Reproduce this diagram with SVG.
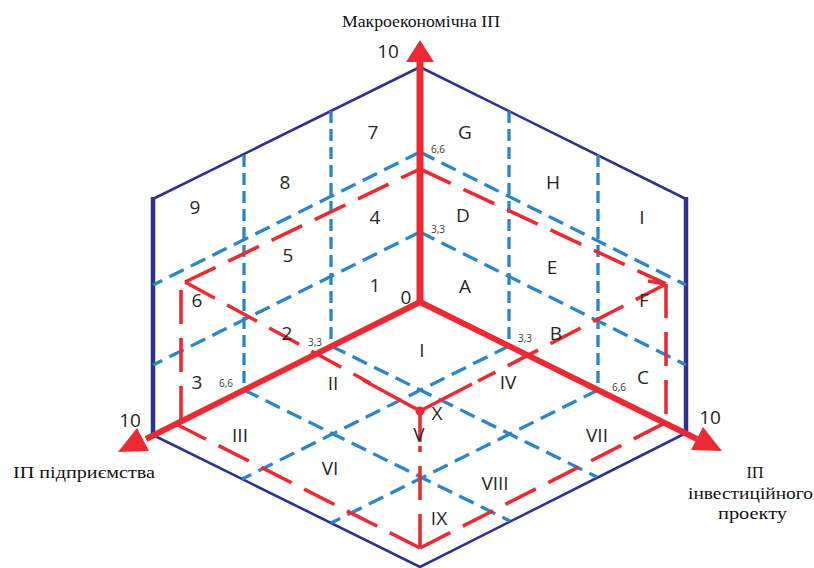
<svg xmlns="http://www.w3.org/2000/svg" width="814" height="568" viewBox="0 0 814 568">
<style>
.hex{fill:none;stroke:#2e3190;stroke-width:2.6;stroke-linejoin:round}
.hexv{fill:none;stroke:#2e3190;stroke-width:4.5}
.bl{fill:none;stroke:#2a86c6;stroke-width:3.3;stroke-dasharray:16 8}
.blv{fill:none;stroke:#2a86c6;stroke-width:3.3;stroke-dasharray:12 6}
.rd{fill:none;stroke:#ec2a33;stroke-width:3.6;stroke-dasharray:34 14}
.rs{fill:none;stroke:#ec2a33;stroke-width:3.6}
.ax{fill:none;stroke:#ec2a33;stroke-width:6}
.ah{fill:#ec2a33}
.lb{font-family:"Open Sans","DejaVu Sans",sans-serif;font-size:19px;fill:#262626;text-anchor:middle}
.sm{font-family:"Open Sans","DejaVu Sans",sans-serif;font-size:10px;fill:#3a3a3a;text-anchor:middle}
.tt{font-family:"Liberation Serif","DejaVu Serif",serif;font-size:16px;fill:#111}
</style>
<rect width="814" height="568" fill="#fff"/>
<g id="hexagon">
<polyline class="hex" points="153,199 420,67 686,199"/>
<polyline class="hex" points="153,435 420,567 686,433"/>
<line class="hexv" x1="153" y1="197" x2="153" y2="437"/>
<line class="hexv" x1="686" y1="197" x2="686" y2="435"/>
</g>
<g id="grid">
<line class="bl" x1="420" y1="232" x2="153" y2="365"/>
<line class="bl" x1="420" y1="152" x2="153" y2="285"/>
<line class="blv" x1="331" y1="111" x2="331" y2="346"/>
<line class="blv" x1="244" y1="155" x2="244" y2="390"/>
<line class="bl" x1="420" y1="232" x2="686" y2="365"/>
<line class="bl" x1="420" y1="152" x2="686" y2="285"/>
<line class="blv" x1="509" y1="111" x2="509" y2="346"/>
<line class="blv" x1="598" y1="155" x2="598" y2="390"/>
<line class="bl" x1="331" y1="346" x2="597" y2="477"/>
<line class="bl" x1="244" y1="390" x2="510" y2="521"/>
<line class="bl" x1="509" y1="346" x2="242" y2="479"/>
<line class="bl" x1="598" y1="390" x2="331" y2="523"/>
</g>
<g id="redbox">
<line class="rd" x1="185" y1="282" x2="420" y2="169"/>
<line class="rd" x1="420" y1="169" x2="666" y2="284"/>
<line class="rd" x1="181" y1="290" x2="181" y2="421"/>
<line class="rd" x1="666" y1="284" x2="666" y2="423"/>
<line class="rd" x1="420" y1="548" x2="178" y2="425"/>
<line class="rd" x1="420" y1="548" x2="665" y2="423"/>
<line class="rs" x1="420" y1="411" x2="363" y2="380"/>
<line class="rd" x1="185" y1="282" x2="370" y2="383"/>
<line class="rs" x1="420" y1="411" x2="472" y2="384"/>
<line class="rd" x1="666" y1="284" x2="478" y2="381"/>
<line class="rs" x1="648" y1="281" x2="666" y2="284"/>
<line class="rs" x1="420" y1="411" x2="420" y2="442"/>
<line class="rd" x1="420" y1="548" x2="420" y2="446"/>
<circle cx="420" cy="411" r="4.5" fill="#ec2a33"/>
</g>
<g id="axes">
<line class="ax" x1="420" y1="302" x2="420" y2="58" style="stroke-width:7"/>
<polygon class="ah" points="420,40 406,62 434,62"/>
<line class="ax" x1="420" y1="302" x2="146" y2="439"/>
<polygon class="ah" points="118,452 149,451 137,428"/>
<line class="ax" x1="420" y1="302" x2="697" y2="439"/>
<polygon class="ah" points="722,451 691,450 703,427"/>
</g>
<g id="labels">
<text class="lb" x="388" y="58">10</text>
<text class="lb" x="130" y="427">10</text>
<text class="lb" x="710" y="424">10</text>
<text class="lb" x="373" y="139">7</text>
<text class="lb" x="285" y="189">8</text>
<text class="lb" x="195" y="214">9</text>
<text class="lb" x="375" y="224">4</text>
<text class="lb" x="288" y="262">5</text>
<text class="lb" x="375" y="292">1</text>
<text class="lb" x="406" y="304">0</text>
<text class="lb" x="197" y="307">6</text>
<text class="lb" x="287" y="340">2</text>
<text class="lb" x="197" y="389">3</text>
<text class="lb" x="465" y="139">G</text>
<text class="lb" x="553" y="189">H</text>
<text class="lb" x="642" y="224">I</text>
<text class="lb" x="463" y="222">D</text>
<text class="lb" x="552" y="274">E</text>
<text class="lb" x="465" y="293">A</text>
<text class="lb" x="644" y="307">F</text>
<text class="lb" x="556" y="340">B</text>
<text class="lb" x="643" y="384">C</text>
<text class="lb" x="422" y="357">I</text>
<text class="lb" x="333" y="390">II</text>
<text class="lb" x="508" y="389">IV</text>
<text class="lb" x="240" y="442">III</text>
<text class="lb" x="330" y="475">VI</text>
<text class="lb" x="419" y="441">V</text>
<text class="lb" x="437" y="420">X</text>
<text class="lb" x="597" y="442">VII</text>
<text class="lb" x="495" y="490">VIII</text>
<text class="lb" x="439" y="525">IX</text>
<text class="sm" x="438" y="153">6,6</text>
<text class="sm" x="438" y="233">3,3</text>
<text class="sm" x="315" y="346">3,3</text>
<text class="sm" x="226" y="387">6,6</text>
<text class="sm" x="525" y="342">3,3</text>
<text class="sm" x="619" y="391">6,6</text>
</g>
<g id="titles">
<text class="tt" x="342" y="27" textLength="158" lengthAdjust="spacingAndGlyphs">Макроекономічна ІП</text>
<text class="tt" x="13" y="478" textLength="142" lengthAdjust="spacingAndGlyphs">ІП підприємства</text>
<text class="tt" x="755" y="478" text-anchor="middle">ІП</text>
<text class="tt" x="688" y="499" textLength="125" lengthAdjust="spacingAndGlyphs">інвестиційного</text>
<text class="tt" x="718" y="519" textLength="69" lengthAdjust="spacingAndGlyphs">проекту</text>
</g>
</svg>
